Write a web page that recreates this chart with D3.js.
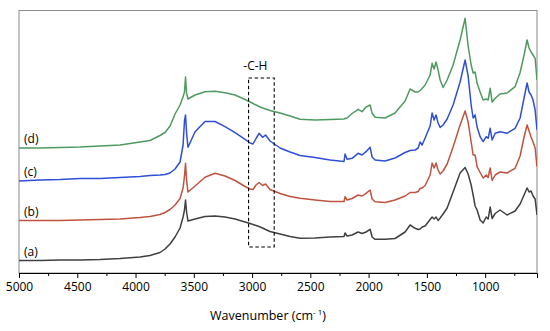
<!DOCTYPE html>
<html>
<head>
<meta charset="utf-8">
<script src="https://cdn.jsdelivr.net/npm/d3@7"></script>
<style>
body{margin:0;background:#fff;}
text{font-family:"Open Sans",sans-serif;fill:#000;}
</style>
</head>
<body>
<script>
var width = 550, height = 331;
var margin = {top: 10.5, right: 13, bottom: 58, left: 19};

// wavenumber grid (cm-1), shared by the four spectra
var wavenumber = [5000,4820,4648,4476,4305,4133,3961,3876,3790,3747,3704,3661,3618,3592,3580,3571,3562,3550,3489,3404,
3318,3232,3146,3060,3017,2992,2966,2940,2910,2884,2846,2760,2674,2588,2460,2331,2211,2202,2185,2142,
2090,2056,2022,1987,1970,1944,1859,1773,1687,1644,1601,1575,1558,1541,1515,1472,1455,1438,1421,1404,
1386,1361,1326,1275,1215,1172,1146,1120,1103,1086,1069,1043,1017,991,974,957,940,914,872,812,
743,700,666,640,623,606,589,571,555];

// stacked absorbance (a.u., offset)
var specA = [12.5,12.5,13,13,13.5,14.5,16,17.5,20.5,24,29,36,45,56,63,73,61,52,54,56.5,
57,56,54,51,49.5,48.5,47.5,46.5,45,43.5,41.5,39,36.5,34.7,35,36,36.5,40,37,38,
41,39.5,41,43.7,36,33.7,33.7,34.5,41,48,44.7,43.5,44,46,47,53.5,56,54,56,52.5,
55,59,65,81,100,105.5,99,88,78,67,63,53,50,56,54,66,54.5,59.5,63,58,
62,69,78,85,81,82,77,74,58];
var specB = [52.5,52.5,52.5,53,53.5,54,55.5,56.5,58.5,60.5,63.5,68,74.5,85,97,109.7,93,81,87,95.7,
99.7,97,92.5,86.5,84,83.5,88,90.5,87.5,89,83.5,79.5,76.5,74.7,73,71.5,71.5,76.3,73,74.5,
78,77,79.7,83,74,71.3,70.5,73,77,80.5,80.5,81.5,84.5,85,87.5,98,110,105,110,103,
99,102,109,126,148,162,151,131,118,118,106.3,100.5,95,98,95.5,105,92.5,98,101,100,
104.7,117,136,148,142,136,131,125,106.3];
var specC = [92,93,93.5,94.5,94.5,95.5,96.5,97.5,98,98.5,100,104,111,128,152,158,140,125.7,141.3,151.5,
151.5,146.3,140.3,133.7,130,129,134.5,139.7,135.7,138,132,125,121,117.5,115.5,113,111.5,119,113.7,114.7,
119.7,118,121.3,125.7,116,113,112,115,120.5,122.5,123,125,131,128,135,147,160,153,158,150,
145.5,148,154,168,191,213,197,168,155,158,146,136.3,131.3,136.3,134.7,144.7,133,139.7,141.3,139.7,
144.7,155,175,190,181,178,173,163,143];
var specD = [125,125,125.5,126,127,128,131,132.5,137.5,140.5,147,159,168,176.3,181,196,180,174,178,181.3,
181.8,180.3,178,173.5,171,169.5,168,166.5,165,164,162.5,160,157,153.7,153,153.5,154,154.5,155,159.5,
163.7,161.3,166,168,159.7,155.7,155,160,172,184,181,181,182.5,184.5,188,198,209.7,204,211,203,
193,185.5,193,208,233,254.7,227,208,200,201,189.7,181,173,174,173,184.7,171,174.7,179,180,
186.3,200.5,218,233,225,221,218,214.7,193];

var seriesNames = ["(a)","(b)","(c)","(d)"];
var seriesColors = ["#404040","#c0533f","#2f4fd8","#4f9a60"];
var seriesValues = [specA, specB, specC, specD];

var majorTicks = [5000,4500,4000,3500,3000,2500,2000,1500,1000];
var minorTicks = [4750,4250,3750,3250,2750,2250,1750,1250,750];

// dashed box around the C-H stretch
var chLabel = "-C-H";
var chRange = [3030, 2810];
var chLevels = [26, 195];

var w = width - margin.left - margin.right;
var h = height - margin.top - margin.bottom;

var svg = d3.select("body").append("svg")
  .attr("width", width).attr("height", height);
var g = svg.append("g")
  .attr("transform", "translate(" + margin.left + "," + margin.top + ")");

var x = d3.scaleLinear().domain([5000, 555]).range([0, w]);
var y = d3.scaleLinear().domain([0, 262.5]).range([h, 0]);

svg.append("defs").append("clipPath").attr("id", "clip")
  .append("rect").attr("width", w).attr("height", h);

// frame
g.append("rect").attr("width", w).attr("height", h)
  .attr("fill", "none").attr("stroke", "#8a8a8a").attr("stroke-width", 1);

var line = d3.line()
  .x(function(d, i) { return x(wavenumber[i]); })
  .y(function(d) { return y(d); });

var plot = g.append("g").attr("clip-path", "url(#clip)");
seriesValues.forEach(function(vals, k) {
  plot.append("path").datum(vals)
    .attr("d", line)
    .attr("fill", "none")
    .attr("stroke", seriesColors[k])
    .attr("stroke-width", 1.5)
    .attr("stroke-linejoin", "round");
  g.append("text")
    .attr("x", 5)
    .attr("y", y(vals[0]) - 5)
    .attr("font-size", 12)
    .text(seriesNames[k]);
});

// C-H box
g.append("rect")
  .attr("x", x(chRange[0])).attr("y", y(chLevels[1]))
  .attr("width", x(chRange[1]) - x(chRange[0]))
  .attr("height", y(chLevels[0]) - y(chLevels[1]))
  .attr("fill", "none").attr("stroke", "#000")
  .attr("stroke-width", 1.1).attr("stroke-dasharray", "3.5,2.5");
g.append("text")
  .attr("x", (x(chRange[0]) + x(chRange[1])) / 2 - 6)
  .attr("y", y(chLevels[1]) - 8)
  .attr("text-anchor", "middle")
  .attr("font-size", 12)
  .text(chLabel);

// x axis
var xAxis = d3.axisBottom(x).tickValues(majorTicks).tickSize(5).tickPadding(4)
  .tickFormat(d3.format("d"));
var ax = g.append("g").attr("transform", "translate(0," + h + ")").call(xAxis);
ax.select(".domain").attr("stroke", "#000");
ax.selectAll("text").attr("font-size", 12).attr("font-family", "Open Sans");
g.append("g").attr("transform", "translate(0," + h + ")")
  .call(d3.axisBottom(x).tickValues(minorTicks).tickSize(3).tickFormat(""))
  .select(".domain").remove();

var title = svg.append("text")
  .attr("x", 268).attr("y", 320)
  .attr("text-anchor", "middle")
  .attr("font-size", 12.5);
title.append("tspan").text("Wavenumber (cm");
title.append("tspan").attr("dy", -5).attr("font-size", 8).text("- 1");
title.append("tspan").attr("dy", 5).text(")");
</script>
</body>
</html>
